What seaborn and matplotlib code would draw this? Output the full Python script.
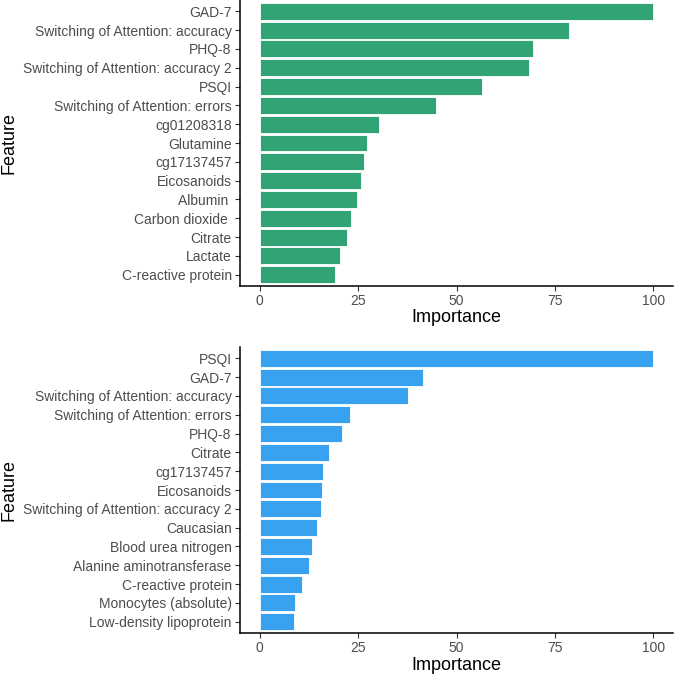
import matplotlib
matplotlib.use("Agg")
import matplotlib.pyplot as plt
import seaborn as sns
import pandas as pd

features_top = ["GAD-7", "Switching of Attention: accuracy", "PHQ-8",
                "Switching of Attention: accuracy 2", "PSQI",
                "Switching of Attention: errors", "cg01208318", "Glutamine",
                "cg17137457", "Eicosanoids", "Albumin ", "Carbon dioxide ",
                "Citrate", "Lactate", "C-reactive protein"]
importance_top = [100, 78.5, 69.5, 68.4, 56.4, 44.7, 30.4, 27.2, 26.4, 25.7,
                  24.6, 23.1, 22.1, 20.4, 19.2]

features_bottom = ["PSQI", "GAD-7", "Switching of Attention: accuracy",
                   "Switching of Attention: errors", "PHQ-8", "Citrate",
                   "cg17137457", "Eicosanoids", "Switching of Attention: accuracy 2",
                   "Caucasian", "Blood urea nitrogen", "Alanine aminotransferase",
                   "C-reactive protein", "Monocytes (absolute)", "Low-density lipoprotein"]
importance_bottom = [100, 41.5, 37.7, 23.0, 20.8, 17.6, 16.2, 15.8, 15.6, 14.6,
                     13.4, 12.6, 10.7, 9.0, 8.7]

xticks = [0, 25, 50, 75, 100]

sns.set_theme(style="white")
plt.rcParams['font.family'] = ['Liberation Sans', 'DejaVu Sans']

W, H = 674, 675
fig = plt.figure(figsize=(W / 100, H / 100), dpi=100)

def make_axes(top_px, bottom_px):
    left, right = 240, 673
    return fig.add_axes([left / W, 1 - bottom_px / H, (right - left) / W,
                         (bottom_px - top_px) / H])

panels = [
    (features_top, importance_top, "#31A374", 0, 286),
    (features_bottom, importance_bottom, "#38A1F0", 347, 633),
]

for feats, vals, color, t, b in panels:
    ax = make_axes(t, b)
    df = pd.DataFrame({"Feature": feats, "Importance": vals})
    sns.barplot(data=df, x="Importance", y="Feature", order=feats, color=color,
                width=0.9, edgecolor="white", linewidth=0.6, saturation=1,
                ax=ax)
    n = len(feats)
    ax.set_ylim(n - 1 + 0.6, -0.6)
    ax.set_xlim(-5, 105)
    ax.set_xticks(xticks)
    ax.set_xticklabels([str(v) for v in xticks])
    for s in ["top", "right"]:
        ax.spines[s].set_visible(False)
    for s in ["left", "bottom"]:
        ax.spines[s].set_color("black")
        ax.spines[s].set_linewidth(1.1)
    ax.tick_params(axis="both", which="major", length=3.5, width=0.8,
                   color="#333333", labelsize=10, labelcolor="#4D4D4D",
                   pad=2.5, left=True, bottom=True)
    ax.set_xlabel("Importance", fontsize=13, color="black")
    ax.set_ylabel("Feature", fontsize=13, color="black")
    hpx = b - t
    ax.xaxis.set_label_coords(0.5, -32 / hpx)
    ax.xaxis.label.set_va("center")
    ax.yaxis.set_label_coords((9 - 240) / 433, 0.5)
    ax.yaxis.label.set_va("center")

fig.savefig("out.png", dpi=100, facecolor="white")
